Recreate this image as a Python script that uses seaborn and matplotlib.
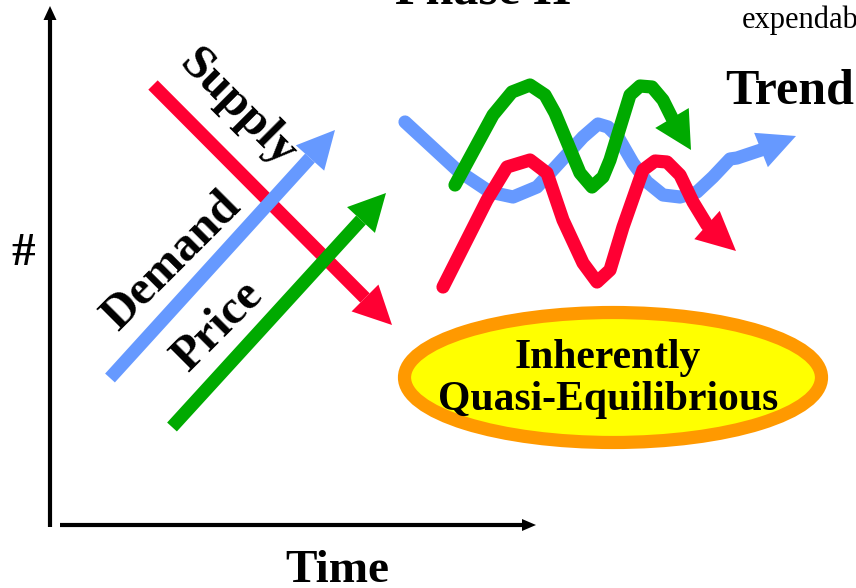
import numpy as np
import seaborn as sns
import matplotlib.pyplot as plt
from matplotlib.patches import Polygon, Ellipse

sns.set_style("white")
plt.rcParams['font.family'] = ['Liberation Serif', 'DejaVu Serif']
plt.rcParams['text.color'] = 'black'

# 그림 좌표 (픽셀, y는 아래로 증가)
# 왼쪽 직선: 시작점, 화살촉 밑변 중심, 끝점
supply_x = [153, 365, 392]
supply_y = [85, 298, 325]
demand_x = [110, 310, 335]
demand_y = [378, 158, 130]
price_x = [172, 361, 386]
price_y = [427, 220, 193]

# 오른쪽 구불구불한 선 (마지막 점 = 화살 끝)
trend_blue_x = [405, 457, 490, 513, 537, 550, 583, 598, 608, 618, 633, 647, 663, 680, 697, 713, 730, 737, 761, 796]
trend_blue_y = [122, 170, 192, 197, 187, 173, 137, 124, 127, 137, 163, 182, 195, 197, 192, 177, 159, 158, 150, 136]
trend_green_x = [455, 493, 512, 530, 545, 555, 580, 592, 603, 610, 630, 640, 652, 663, 672, 691]
trend_green_y = [185, 115, 92, 85, 95, 113, 173, 187, 177, 160, 95, 86, 87, 100, 118, 150]
trend_red_x = [443, 487, 507, 530, 547, 563, 583, 597, 610, 623, 643, 655, 667, 680, 693, 707, 736]
trend_red_y = [287, 200, 167, 160, 173, 220, 263, 282, 270, 227, 170, 161, 162, 175, 202, 225, 251]

# 축
y_axis_x = [50, 50, 50]
y_axis_y = [527, 20, 6]
x_axis_x = [60, 522, 536]
x_axis_y = [525, 525, 525]

RED = '#FF0033'
BLUE = '#6699FF'
GREEN = '#00AA00'


def head(ax, base, tip, width, color):
    b = np.array(base, float)
    t = np.array(tip, float)
    d = t - b
    n = np.array([-d[1], d[0]]) / np.hypot(*d)
    ax.add_patch(Polygon([b + n * width / 2, t, b - n * width / 2],
                         closed=True, facecolor=color, edgecolor='none', zorder=3))


def arrow(ax, xs, ys, color, lw, hw, cap='butt'):
    sns.lineplot(x=xs[:-1], y=ys[:-1], sort=False, estimator=None, color=color,
                 linewidth=lw, solid_capstyle=cap, solid_joinstyle='round', ax=ax, zorder=3)
    head(ax, (xs[-2], ys[-2]), (xs[-1], ys[-1]), hw, color)


fig = plt.figure(figsize=(8.56, 5.88), dpi=100)
ax = fig.add_axes([0, 0, 1, 1])
ax.set_xlim(0, 856)
ax.set_ylim(588, 0)
ax.axis('off')

# 축 화살표
arrow(ax, y_axis_x, y_axis_y, 'black', 3, 13)
arrow(ax, x_axis_x, x_axis_y, 'black', 3, 12)

# 직선 화살표
arrow(ax, supply_x, supply_y, RED, 9.5, 38)
arrow(ax, demand_x, demand_y, BLUE, 9.5, 38)
arrow(ax, price_x, price_y, GREEN, 9.5, 38)

# 구불구불한 화살표
arrow(ax, trend_blue_x, trend_blue_y, BLUE, 9.5, 37, cap='round')
arrow(ax, trend_green_x, trend_green_y, GREEN, 9.5, 39, cap='round')
arrow(ax, trend_red_x, trend_red_y, RED, 9.5, 38, cap='round')

# 타원
ax.add_patch(Ellipse((613, 377.5), 417, 130, facecolor='#FFFF00',
                     edgecolor='#FF9900', linewidth=9.5, zorder=2))
ax.text(608, 358, 'Inherently', fontsize=30, fontweight='bold', ha='center', va='center', zorder=4)
ax.text(608, 400, 'Quasi-Equilibrious', fontsize=30, fontweight='bold', ha='center', va='center', zorder=4)

# 라벨
ax.text(238, 108, 'Supply', fontsize=35, fontweight='bold', rotation=-45,
        rotation_mode='anchor', ha='center', va='center')
ax.text(172, 262, 'Demand', fontsize=35, fontweight='bold', rotation=45,
        rotation_mode='anchor', ha='center', va='center')
ax.text(218, 326, 'Price', fontsize=35, fontweight='bold', rotation=45,
        rotation_mode='anchor', ha='center', va='center')
ax.text(23, 254, '#', fontsize=34, fontweight='bold', ha='center', va='center')
ax.text(337, 582, 'Time', fontsize=34, fontweight='bold', ha='center', va='baseline')
ax.text(725, 103, 'Trend', fontsize=36, fontweight='bold', ha='left', va='baseline')
ax.text(483, 4, 'Phase II', fontsize=36, fontweight='bold', ha='center', va='baseline')
ax.text(742, 28, 'expendable', fontsize=22, ha='left', va='baseline')

fig.savefig('out.png', dpi=100)
